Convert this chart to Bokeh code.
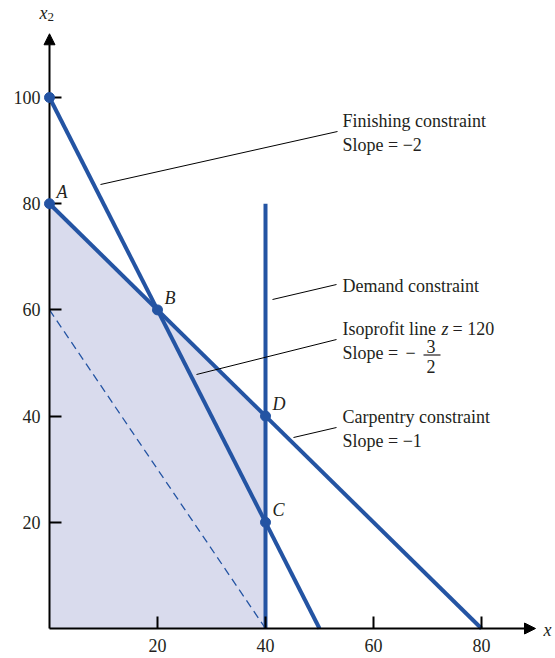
from bokeh.plotting import figure
from bokeh.models import Range1d, LinearAxis, FixedTicker, Arrow, NormalHead, Label
from bokeh.embed import file_html
from bokeh.resources import INLINE

# ---- data ----
finishing_x = [0, 50]
finishing_y = [100, 0]
carpentry_x = [0, 80]
carpentry_y = [80, 0]
demand_x = [40, 40]
demand_y = [0, 80]
isoprofit_x = [0, 40]
isoprofit_y = [60, 0]
feasible_x = [0, 0, 20, 40, 40]
feasible_y = [0, 80, 60, 40, 0]
point_x = [0, 0, 20, 40, 40]
point_y = [100, 80, 60, 40, 20]
point_names = ["", "A", "B", "D", "C"]
x_ticks = [20, 40, 60, 80]
y_ticks = [20, 40, 60, 80, 100]
x_axis_end = 90
y_axis_end = 112

# ---- layout ----
W, H = 555, 658
OX, OY = 49, 628          # canvas pixel of the origin
SX, SY = 5.4, 5.31        # pixels per unit
SHIFT = 5                 # baseline correction for labels (px)
xs = -OX / SX
xe = xs + W / SX
ye = OY / SY
ys = ye - H / SY

def dx(page_x):
    return (page_x - OX) / SX

def dy(page_y):
    return (OY - page_y) / SY

BLUE = "#2454a3"
FILL = "#d9dbed"
TXT = "#231f20"
FONT = "Liberation Serif"
FS = "18px"

p = figure(width=W, height=H, x_range=Range1d(xs, xe), y_range=Range1d(ys, ye),
           x_axis_location=None, y_axis_location=None, toolbar_location=None,
           output_backend="svg", min_border=0, outline_line_color=None)
p.grid.grid_line_color = None
p.background_fill_color = "white"

# feasible region
p.patch(feasible_x, feasible_y, fill_color=FILL, line_color=None)

# isoprofit dashed
p.line(isoprofit_x, isoprofit_y, line_color=BLUE, line_width=1.3, line_dash="8 5")

# constraints
p.line(finishing_x, finishing_y, line_color=BLUE, line_width=4)
p.line(carpentry_x, carpentry_y, line_color=BLUE, line_width=4)
p.line(demand_x, demand_y, line_color=BLUE, line_width=4)

# axes
common = dict(major_tick_in=12, major_tick_out=0, minor_tick_in=0, minor_tick_out=0,
              axis_line_color=None, major_tick_line_width=2, major_tick_line_color="black",
              major_label_text_font=FONT, major_label_text_font_size=FS,
              major_label_text_color=TXT)
xaxis = LinearAxis(fixed_location=0, ticker=FixedTicker(ticks=x_ticks),
                   major_label_standoff=10, **common)
yaxis = LinearAxis(fixed_location=0, ticker=FixedTicker(ticks=y_ticks),
                   major_label_standoff=9, **common)
p.add_layout(xaxis, "below")
p.add_layout(yaxis, "left")

p.add_layout(Arrow(x_start=0, y_start=0, x_end=x_axis_end, y_end=0, line_width=2,
                   line_color="black",
                   end=NormalHead(size=11, fill_color="black", line_color="black")))
p.add_layout(Arrow(x_start=0, y_start=0, x_end=0, y_end=y_axis_end, line_width=2,
                   line_color="black",
                   end=NormalHead(size=11, fill_color="black", line_color="black")))

# corner points
p.scatter(point_x, point_y, size=10, fill_color=BLUE, line_color=BLUE, level="overlay")
for xv, yv, nm in zip(point_x, point_y, point_names):
    if nm:
        p.add_layout(Label(x=xv, y=yv, text=nm, x_offset=7, y_offset=7 + SHIFT,
                           text_font=FONT, text_font_size=FS, text_font_style="italic",
                           text_color=TXT, text_baseline="alphabetic"))

def txt(x, y, s, style="normal", size=FS):
    p.add_layout(Label(x=dx(x), y=dy(y - SHIFT), text=s, text_font=FONT, text_font_size=size,
                       text_font_style=style, text_color=TXT, text_baseline="alphabetic"))

# axis labels
txt(543, 634, "x", "italic")
txt(39, 17, "x", "italic")
txt(47, 21, "2", size="13px")

txt(342, 125, "Finishing constraint")
txt(342, 149, "Slope = \u22122")
txt(342, 290, "Demand constraint")
txt(342, 333, "Isoprofit line")
txt(441, 333, "z", "italic")
txt(452, 333, "= 120")
txt(342, 357, "Slope =")
txt(405, 357, "\u2212")
txt(426, 351, "3")
txt(426, 371, "2")
txt(342, 421, "Carpentry constraint")
txt(342, 445, "Slope = \u22121")

# fraction bar
p.segment(x0=[dx(423)], y0=[dy(354.5)], x1=[dx(440)], y1=[dy(354.5)], line_color=TXT, line_width=1.2)

# leader lines
lead_x0 = [dx(100), dx(272), dx(196), dx(293)]
lead_y0 = [dy(184), dy(299), dy(374), dy(437)]
lead_x1 = [dx(337), dx(336), dx(336), dx(336)]
lead_y1 = [dy(131), dy(284), dy(339), dy(427)]
p.segment(x0=lead_x0, y0=lead_y0, x1=lead_x1, y1=lead_y1, line_color="black", line_width=1)

open("out.html", "w").write(file_html(p, INLINE))
